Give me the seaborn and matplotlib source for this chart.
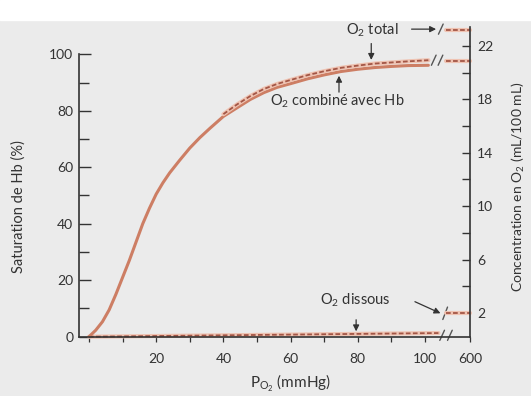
import matplotlib
matplotlib.use("Agg")
import matplotlib.pyplot as plt
import seaborn as sns
from matplotlib.patches import Rectangle

# saturation curve (O2 combined with Hb), % vs PO2 (mmHg)
po2 = [0, 2, 4, 6, 8, 10, 12, 14, 16, 18, 20, 22, 24, 27, 30, 33, 36, 40, 44, 48,
       52, 56, 60, 65, 70, 75, 80, 85, 90, 95, 101]
sat = [0, 2.3, 5.3, 9.5, 15, 21, 27, 33.5, 40, 45.5, 50.5, 54.5, 58, 62.5, 66.8, 70.5,
       73.8, 78, 81, 84, 86.4, 88.3, 89.6, 91.3, 92.7, 93.9, 94.7, 95.3, 95.7, 96, 96.1]

# total O2 (dashed, just above the Hb curve), same % scale
total_po2 = [40, 44, 48, 52, 56, 60, 65, 70, 75, 80, 85, 90, 95, 101]
total_sat = [78.8, 82.2, 85.2, 87.7, 89.5, 90.9, 92.6, 94.0, 95.2, 96.0, 96.7, 97.1, 97.5, 97.9]

# dissolved O2 (dashed, near the axis)
dissolved_po2 = [0, 104]
dissolved_sat = [0, 1.3]

# values past the axis break (right axis, mL/100 mL)
far_po2 = [106.2, 113.4]
far_total = [23.2, 23.2]
far_hb = [20.9, 20.9]
far_dissolved = [2.0, 2.0]

x_major = [20, 40, 60, 80, 100, 113.4]
x_labels = ["20", "40", "60", "80", "100", "600"]
x_minor = [0, 10, 30, 50, 70, 90]
right_major = [2, 6, 10, 14, 18, 22]
right_minor = [4, 8, 12, 16, 20]

CURVE = "#cd7e64"
HALO = "#efc3b2"
DASH = "#a35646"
INK = "#333333"

sns.set_theme(style="white")
plt.rcParams["font.family"] = ["Lato", "DejaVu Sans"]

fig = plt.figure(figsize=(5.31, 3.96), dpi=100, facecolor="#ebebeb")
fig.add_artist(Rectangle((0, 1 - 20 / 396), 1, 20 / 396, transform=fig.transFigure,
                         color="white", zorder=0))
ax = fig.add_axes([0.1486, 0.1497, 0.7366, 0.781])
ax.patch.set_alpha(0)
ax2 = ax.twinx()
ax2.patch.set_alpha(0)


def dashed(a, x, y):
    sns.lineplot(x=x, y=y, ax=a, color=HALO, linewidth=3.0, estimator=None, clip_on=False)
    sns.lineplot(x=x, y=y, ax=a, color=DASH, linewidth=1.3, estimator=None, clip_on=False)
    a.lines[-1].set_dashes((2.6, 1.3))


dashed(ax, dissolved_po2, dissolved_sat)
sns.lineplot(x=po2, y=sat, ax=ax, color=CURVE, linewidth=2.2, estimator=None)
dashed(ax, total_po2, total_sat)

dashed(ax2, far_po2, far_total)
dashed(ax2, far_po2, far_hb)
dashed(ax2, far_po2, far_dissolved)

ax.set_xlim(-3, 113.4)
ax.set_ylim(0, 109.5)
ax2.set_ylim(0.23, 23.38)

for s in ["top", "right"]:
    ax.spines[s].set_visible(False)
for s in ["top", "left", "bottom"]:
    ax2.spines[s].set_visible(False)
for s in ["left", "bottom"]:
    ax.spines[s].set_color(INK)
    ax.spines[s].set_linewidth(1.2)
ax.spines["left"].set_bounds(0, 100)
ax2.spines["right"].set_color(INK)
ax2.spines["right"].set_linewidth(1.2)

ax.set_xticks(x_major, x_labels)
ax.set_xticks(x_minor, minor=True)
ax.tick_params(axis="x", which="both", direction="out", length=3.5, width=0.9,
               color=INK, labelsize=10, labelcolor=INK, pad=8, bottom=True)
ax.set_yticks([0, 20, 40, 60, 80, 100])
ax.set_yticks([10, 30, 50, 70, 90], minor=True)
ax.tick_params(axis="y", which="major", direction="in", length=8.5, width=1.0,
               color=INK, labelsize=10, labelcolor=INK, pad=4, left=True)
ax.tick_params(axis="y", which="minor", direction="in", length=7, width=1.0,
               color=INK, left=True)

ax2.set_yticks(right_major)
ax2.set_yticks(right_minor, minor=True)
ax2.tick_params(axis="y", which="major", direction="in", length=6, width=1.0,
                color=INK, labelsize=10, labelcolor=INK, pad=5, right=True)
ax2.tick_params(axis="y", which="minor", direction="in", length=6, width=1.0,
                color=INK, right=True)
ax.grid(False)
ax2.grid(False)

ax.set_xlabel(r"$\mathregular{P_{O_2}}$ (mmHg)", fontsize=11, color=INK)
ax.xaxis.set_label_coords(0.54, -0.118)
ax.set_ylabel("Saturation de Hb (%)", fontsize=10.5, color=INK)
ax.yaxis.set_label_coords(-0.135, 0.42)
ax2.set_ylabel(r"Concentration en O$_\mathregular{2}$ (mL/100 mL)", fontsize=10, color=INK)
ax2.yaxis.set_label_coords(1.10, 0.485)


# axis-break slashes
def slash(a, x, y, dx, dy):
    a.plot([x - dx, x + dx], [y - dy, y + dy], color="#555555", lw=1.0, clip_on=False)


for bx in [105.1, 107.4]:
    slash(ax, bx, 0.5, 0.7, 1.8)
for bx in [102.6, 104.6]:
    slash(ax, bx, 97.9, 0.7, 1.8)
slash(ax, 104.7, 108.9, 0.7, 1.8)
slash(ax, 106.0, 8.3, 0.7, 2.2)

arrow = dict(arrowstyle="-|>", color=INK, lw=0.9, mutation_scale=9, shrinkA=0, shrinkB=0)
ax.text(84.2, 108.6, r"O$_\mathregular{2}$ total", ha="center", va="center", fontsize=10.5, color=INK)
ax.annotate("", xy=(103.3, 108.9), xytext=(96.0, 108.9), arrowprops=arrow, annotation_clip=False)
ax.annotate("", xy=(84.0, 98.0), xytext=(84.0, 103.8), arrowprops=arrow, annotation_clip=False)

ax.text(73.8, 83.3, r"O$_\mathregular{2}$ combiné avec Hb", ha="center", va="center",
        fontsize=10.5, color=INK)
ax.annotate("", xy=(74.4, 92.4), xytext=(74.4, 86.6), arrowprops=arrow)

ax.text(79.2, 12.8, r"O$_\mathregular{2}$ dissous", ha="center", va="center", fontsize=10.5, color=INK)
ax.annotate("", xy=(79.5, 1.9), xytext=(79.5, 6.0), arrowprops=arrow)
ax.annotate("", xy=(104.6, 8.3), xytext=(97.0, 12.4), arrowprops=arrow)

fig.savefig("out.png", dpi=100, facecolor=fig.get_facecolor())
